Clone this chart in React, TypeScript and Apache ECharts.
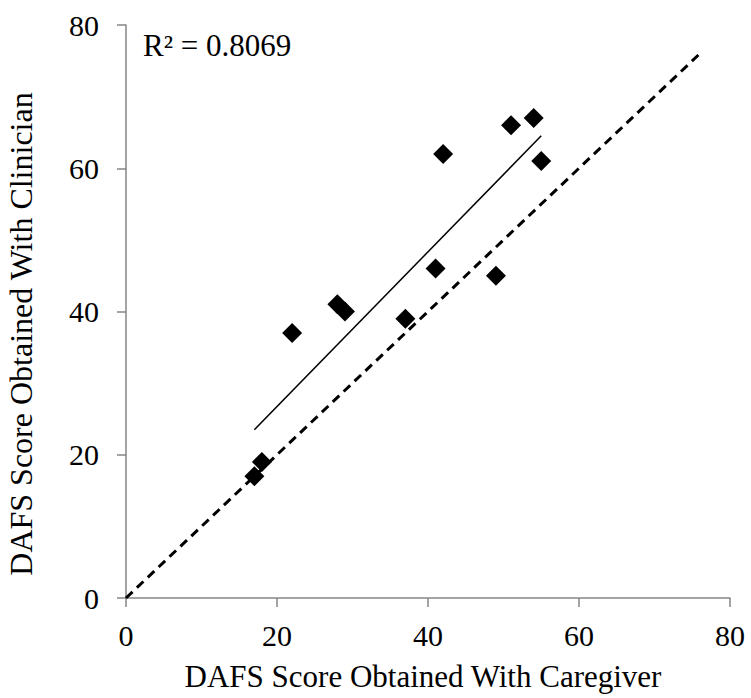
import React, { useEffect, useRef } from "react";
import * as echarts from "echarts";

const caregiverScores = [17, 18, 22, 28, 29, 37, 41, 42, 49, 51, 54, 55];
const clinicianScores = [17, 19, 37, 41, 40, 39, 46, 62, 45, 66, 67, 61];
const identityLine = [
  [0, 0],
  [76, 76],
];
const axisMin = 0;
const axisMax = 80;
const axisInterval = 20;
const rSquaredText = "R² = 0.8069";
const xTitle = "DAFS Score Obtained With Caregiver";
const yTitle = "DAFS Score Obtained With Clinician";

function linearFit(xs: number[], ys: number[]) {
  const n = xs.length;
  const mx = xs.reduce((a, b) => a + b, 0) / n;
  const my = ys.reduce((a, b) => a + b, 0) / n;
  let sxy = 0;
  let sxx = 0;
  for (let i = 0; i < n; i++) {
    sxy += (xs[i] - mx) * (ys[i] - my);
    sxx += (xs[i] - mx) * (xs[i] - mx);
  }
  const slope = sxy / sxx;
  const intercept = my - slope * mx;
  return { slope, intercept };
}

const FONT = '"Liberation Serif", "Times New Roman", serif';

export default function App() {
  const ref = useRef<HTMLDivElement>(null);
  useEffect(() => {
    if (!ref.current) return;
    const chart = echarts.init(ref.current, null, { renderer: "svg" });
    const { slope, intercept } = linearFit(caregiverScores, clinicianScores);
    const xLo = Math.min(...caregiverScores);
    const xHi = Math.max(...caregiverScores);
    const trend = [
      [xLo, slope * xLo + intercept],
      [xHi, slope * xHi + intercept],
    ];
    const points = caregiverScores.map((x, i) => [x, clinicianScores[i]]);
    const axisCommon = {
      type: "value" as const,
      min: axisMin,
      max: axisMax,
      interval: axisInterval,
      splitLine: { show: false },
      axisLine: { show: true, lineStyle: { color: "#868686", width: 1.5 } },
      axisTick: { show: true, length: 9, lineStyle: { color: "#868686", width: 1.5 } },
    };
    chart.setOption({
      animation: false,
      textStyle: { fontFamily: FONT },
      grid: { left: 126, right: 21, top: 25, bottom: 100, containLabel: false },
      xAxis: {
        ...axisCommon,
        axisLabel: { fontSize: 30, color: "#000", fontFamily: FONT, margin: 22 },
      },
      yAxis: {
        ...axisCommon,
        axisLabel: { fontSize: 30, color: "#000", fontFamily: FONT, margin: 27 },
      },
      graphic: [
        {
          type: "text",
          left: 143,
          top: 30,
          style: { text: rSquaredText, font: `31px ${FONT}`, fill: "#000" },
        },
        {
          type: "text",
          x: 423,
          y: 692,
          style: {
            text: xTitle,
            font: `31px ${FONT}`,
            fill: "#000",
            align: "center",
            verticalAlign: "bottom",
          },
        },
        {
          type: "text",
          x: 37,
          y: 334,
          rotation: Math.PI / 2,
          style: {
            text: yTitle,
            font: `32px ${FONT}`,
            fill: "#000",
            align: "center",
            verticalAlign: "bottom",
          },
        },
      ],
      series: [
        {
          type: "line",
          data: identityLine,
          symbol: "none",
          silent: true,
          lineStyle: { color: "#000", width: 3, type: [9, 6] },
          z: 2,
        },
        {
          type: "line",
          data: trend,
          symbol: "none",
          silent: true,
          lineStyle: { color: "#000", width: 1.5 },
          z: 2,
        },
        {
          type: "scatter",
          data: points,
          symbol: "diamond",
          symbolSize: 20,
          itemStyle: { color: "#000", opacity: 1 },
          z: 3,
        },
      ],
    });
    return () => chart.dispose();
  }, []);
  return <div ref={ref} style={{ width: 751, height: 698, position: "absolute", left: 0, top: 0 }} />;
}
